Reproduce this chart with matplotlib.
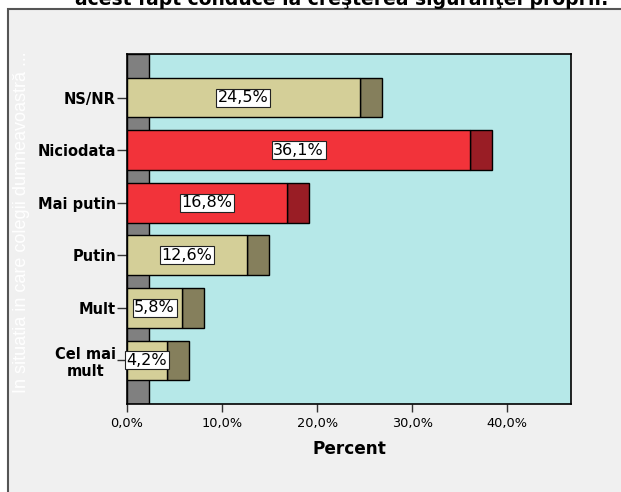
import matplotlib.pyplot as plt
from matplotlib.patches import Rectangle
import numpy as np

plt.rcParams['font.family'] = ['DejaVu Sans']

categories = ["NS/NR", "Niciodata", "Mai putin", "Putin", "Mult", "Cel mai\nmult"]
values = [24.5, 36.1, 16.8, 12.6, 5.8, 4.2]
labels = ["24,5%", "36,1%", "16,8%", "12,6%", "5,8%", "4,2%"]
highlight = [False, True, True, False, False, False]
xticks = [0, 10, 20, 30, 40]
xticklabels = ["0,0%", "10,0%", "20,0%", "30,0%", "40,0%"]

depth = 2.32
xmax = 46.7
bar_h = 0.754

fig = plt.figure(figsize=(6.21, 4.92), dpi=100)
fig.patch.set_facecolor("white")
# outer chart frame
frame = Rectangle((8 / 621, -0.1), 1.2, 1.1 - 9 / 492,
                  transform=fig.transFigure, facecolor="#f0f0f0",
                  edgecolor="#555555", linewidth=1.5, zorder=-5)
fig.patches.append(frame)

# cut-off title at top
fig.text(75 / 621, 1 - 5 / 492, "acest fapt conduce la creşterea siguranţei proprii:",
         ha="left", va="baseline", fontsize=13.5, fontweight="bold")

ax = fig.add_axes([127 / 621, 1 - 404 / 492, 444 / 621, 350 / 492])
ax.set_zorder(2)
ax.set_facecolor("#b6e8e8")
ax.set_xlim(0, xmax)
ax.set_ylim(5.83, -0.83)

# gray wall strip on the left
ax.add_patch(Rectangle((0, -0.83), depth, 6.66, facecolor="#808080",
                       edgecolor="black", linewidth=1, zorder=1))

y = np.arange(len(categories))
for i, v in enumerate(values):
    front = "#f2333a" if highlight[i] else "#d4cf98"
    side = "#991d25" if highlight[i] else "#857f5c"
    ax.barh(y[i], depth, left=v, height=bar_h, color=side,
            edgecolor="black", linewidth=1, zorder=2)
    ax.barh(y[i], v, height=bar_h, color=front,
            edgecolor="black", linewidth=1, zorder=3)
    ax.text(v / 2, y[i], labels[i], ha="center", va="center", fontsize=11.5,
            zorder=5, clip_on=False,
            bbox=dict(boxstyle="square,pad=0.1", facecolor="white",
                      edgecolor="#222222", linewidth=0.8))

ax.set_yticks(y)
ax.set_yticklabels(categories, fontweight="bold", fontsize=10.5,
                   multialignment="center")
ax.set_xticks(xticks)
ax.set_xticklabels(xticklabels, fontsize=9.3)
ax.tick_params(axis="y", direction="out", length=7, width=1, color="#333333", pad=1)
ax.tick_params(axis="x", direction="out", length=6, width=1, color="#333333")
for s in ax.spines.values():
    s.set_linewidth(1.2)

ax.set_xlabel("Percent", fontweight="bold", fontsize=12.2, labelpad=7)
fig.text(22 / 621, 1 - 222 / 492, "In situatia in care colegii dumneavoastră ...",
         rotation=90, ha="center", va="center", fontsize=13, color="white",
         family="Liberation Sans", zorder=3)

fig.savefig("out.png", dpi=100)
